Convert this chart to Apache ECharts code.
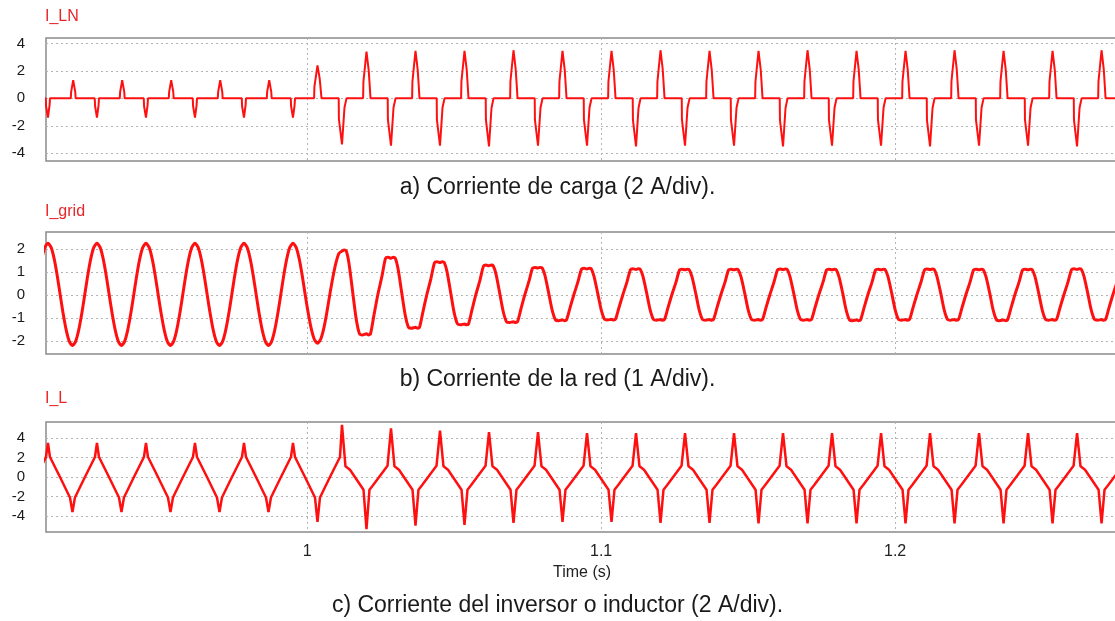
<!DOCTYPE html>
<html><head><meta charset="utf-8">
<script src="https://cdn.jsdelivr.net/npm/echarts@6/dist/echarts.min.js"></script>
<style>html,body{margin:0;padding:0;background:#fff}#c{width:1115px;height:621px}</style>
</head><body><div id="c"></div>
<script>
// ---------- data ----------
const timeWindow = [0.9112, 1.2758];          // s, visible time span
const xTicks = [1, 1.1, 1.2];
const lnTicks = [-4, -2, 0, 2, 4];
const gridTicks = [-2, -1, 0, 1, 2];
const ilTicks = [-4, -2, 0, 2, 4];
const lnRange = [-4.56, 4.39];
const gridRange = [-2.57, 2.74];
const ilRange = [-5.64, 5.64];
const period = 0.016667;                       // 60 Hz cycle
const firstCycle = 0.8952;                     // time of first grid-current peak used
const stepTimes = [1.0, 1.005, 1.005];         // load step seen in I_LN, I_grid, I_L

// per-cycle extremes (one entry per cycle)
const lnNegPeak = [-1.4,-1.4,-1.4,-1.4,-1.4,-1.4,-1.4,-3.35,-3.45,-3.45,-3.5,-3.45,-3.45,-3.5,-3.45,-3.45,-3.5,-3.45,-3.45,-3.5,-3.45,-3.45,-3.5,-3.45];
const lnPosPeak = [1.33,1.33,1.33,1.33,1.33,1.33,2.4,3.4,3.45,3.45,3.5,3.45,3.45,3.5,3.45,3.45,3.5,3.45,3.45,3.5,3.45,3.45,3.5,3.45];
const gridPeak = [2.25,2.25,2.25,2.25,2.25,2.25,2.25,1.96,1.64,1.45,1.3,1.2,1.16,1.14,1.12,1.12,1.13,1.12,1.12,1.13,1.12,1.12,1.14,1.12];
const gridTrough = [-2.2,-2.2,-2.2,-2.2,-2.2,-2.2,-2.1,-1.74,-1.45,-1.3,-1.2,-1.12,-1.09,-1.1,-1.1,-1.1,-1.1,-1.12,-1.1,-1.1,-1.12,-1.1,-1.1,-1.1];
const ilUpPeak = [3.5,3.5,3.5,3.5,3.5,3.5,3.5,5.35,5.0,4.75,4.6,4.6,4.5,4.5,4.5,4.5,4.5,4.5,4.5,4.5,4.5,4.5,4.5,4.5];
const ilDownPeak = [-3.6,-3.6,-3.6,-3.6,-3.6,-3.6,-4.6,-5.35,-5.0,-4.9,-4.7,-4.6,-4.6,-4.7,-4.7,-4.75,-4.75,-4.75,-4.75,-4.75,-4.75,-4.75,-4.75,-4.75];

// one-cycle shapes: [phase (cycles), value, scale]
// scale 0: value as is; 1: x first extreme of cycle; 2: x second extreme; 3: x first extreme of next cycle
const lnShapePre = {
  first:  [[-0.045,0,0],[-0.039,0.4,1],[0,1,1],[0.033,0.35,1],[0.041,0,0]],
  second: [[0.465,0,0],[0.473,0.35,2],[0.515,1,2],[0.557,0.35,2],[0.565,0,0]]
};
const lnShapePost = {
  first:  [[-0.067,0,0],[-0.063,0.45,1],[0,1,1],[0.051,0.2,1],[0.082,0.05,1],[0.092,0,0]],
  second: [[0.431,0,0],[0.437,0.35,2],[0.5,1,2],[0.545,0.6,2],[0.567,0.25,2],[0.582,0,0]]
};
const gridShapePre = {
  first:  [[0,1,1],[0.0625,0.924,1],[0.125,0.707,1],[0.1875,0.383,1],[0.25,0,0],[0.3125,0.383,2],[0.375,0.707,2],[0.4375,0.924,2]],
  second: [[0.5,1,2],[0.5625,0.924,2],[0.625,0.707,2],[0.6875,0.383,2],[0.75,0,0],[0.8125,0.383,3],[0.875,0.707,3],[0.9375,0.924,3]]
};
const gridShapePost = {
  first:  [[0,0.975,1],[0.045,1,1],[0.086,0.98,1],[0.143,0.7,1],[0.22,0.05,1],[0.29,0.6,2],[0.357,0.97,2],[0.418,1,2]],
  second: [[0.5,0.97,2],[0.54,1,2],[0.582,0.97,2],[0.653,0.5,2],[0.73,0,0],[0.816,0.5,3],[0.888,0.97,3],[0.939,1,3]]
};
const ilShapePre = {
  first:  [[0,1,1],[0.041,2.05,0],[0.245,0,0],[0.449,-2.1,0]],
  second: [[0.5,1,2],[0.551,-2.1,0],[0.755,0,0],[0.959,2.05,0]]
};
const ilShapePost = {
  first:  [[0,1,1],[0.071,1.1,0],[0.163,0.75,0],[0.439,-1.3,0]],
  second: [[0.5,1,2],[0.561,-1.3,0],[0.633,-0.85,0],[0.929,1.15,0]]
};

// ---------- build series from the read values ----------
function buildWave(pre, post, ampA, ampB, stepTime) {
  const pts = [];
  for (let i = 0; i < ampA.length; i++) {
    const T = firstCycle + i * period;
    const halves = [[T, 'first'], [T + period / 2, 'second']];
    for (const [tc, key] of halves) {
      const shape = (tc < stepTime ? pre : post)[key];
      for (const [ph, v, s] of shape) {
        let k = 1;
        if (s === 1) k = ampA[i];
        else if (s === 2) k = ampB[i];
        else if (s === 3) k = ampA[Math.min(i + 1, ampA.length - 1)];
        pts.push([T + ph * period, +(v * k).toFixed(3)]);
      }
    }
  }
  return pts;
}
const lnData = buildWave(lnShapePre, lnShapePost, lnNegPeak, lnPosPeak, stepTimes[0]);
const gridData = buildWave(gridShapePre, gridShapePost, gridPeak, gridTrough, stepTimes[1]);
const ilData = buildWave(ilShapePre, ilShapePost, ilUpPeak, ilDownPeak, stepTimes[2]);

// ---------- chart ----------
const FONT = 'Liberation Sans, Arial, sans-serif';
const RED = '#ff1010';
const gridLine = { show: true, lineStyle: { color: '#b4b4b4', type: [2, 3], width: 1 } };
const grids = [
  { left: 46, right: -3, top: 38, bottom: 460 },
  { left: 46, right: -3, top: 232, bottom: 267 },
  { left: 46, right: -3, top: 422, bottom: 89 }
].map(g => Object.assign(g, { show: true, borderColor: '#8a8a8a', borderWidth: 1.5, containLabel: false, outerBoundsMode: 'none' }));

function xAx(i, labels) {
  return {
    type: 'value', gridIndex: i, min: timeWindow[0], max: timeWindow[1],
    axisLine: { show: false }, axisTick: { show: false, customValues: xTicks },
    axisLabel: { show: labels, customValues: xTicks, margin: 12, fontSize: 16, color: '#222', fontFamily: FONT,
      formatter: v => String(+v.toFixed(2)) },
    splitLine: gridLine,
    name: labels ? 'Time (s)' : '', nameLocation: 'middle', nameGap: 33,
    nameTextStyle: { fontSize: 16, color: '#222', fontFamily: FONT }
  };
}
function yAx(i, range, ticks) {
  return {
    type: 'value', gridIndex: i, min: range[0], max: range[1],
    axisLine: { show: false }, axisTick: { show: false, customValues: ticks },
    axisLabel: { customValues: ticks, margin: 21, fontSize: 15, color: '#1a1a1a', fontFamily: FONT },
    splitLine: gridLine
  };
}
function lineSeries(i, data, width, smooth) {
  return {
    type: 'line', xAxisIndex: i, yAxisIndex: i, data, showSymbol: false, symbol: 'none',
    smooth: smooth, clip: true, animation: false,
    lineStyle: { color: RED, width }
  };
}
const titleStyle = { color: '#e8262a', fontSize: 16, fontWeight: 'normal', fontFamily: FONT };
const capStyle = { color: '#1a1a1a', fontSize: 23, fontWeight: 'normal', fontFamily: FONT };

const chart = echarts.init(document.getElementById('c'), null, { renderer: 'canvas' });
chart.setOption({
  backgroundColor: '#fff',
  animation: false,
  title: [
    { text: 'I_LN', left: 45, top: 9, padding: 0, textStyle: titleStyle },
    { text: 'I_grid', left: 45, top: 204, padding: 0, textStyle: titleStyle },
    { text: 'I_L', left: 45, top: 391, padding: 0, textStyle: titleStyle },
    { text: 'a) Corriente de carga (2 A/div).', left: 'center', top: 176, padding: 0, textStyle: capStyle },
    { text: 'b) Corriente de la red (1 A/div).', left: 'center', top: 368, padding: 0, textStyle: capStyle },
    { text: 'c) Corriente del inversor o inductor (2 A/div).', left: 'center', top: 594, padding: 0, textStyle: capStyle }
  ],
  grid: grids,
  xAxis: [xAx(0, false), xAx(1, false), xAx(2, true)],
  yAxis: [yAx(0, lnRange, lnTicks), yAx(1, gridRange, gridTicks), yAx(2, ilRange, ilTicks)],
  series: [
    lineSeries(0, lnData, 2, false),
    lineSeries(1, gridData, 3, 0.25),
    lineSeries(2, ilData, 2.5, false)
  ]
});
</script></body></html>
